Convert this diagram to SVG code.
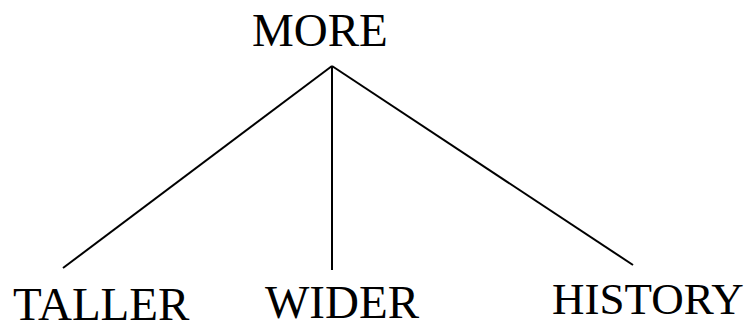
<svg xmlns="http://www.w3.org/2000/svg" width="756" height="328" viewBox="0 0 756 328">
<style>
text{font-family:"Liberation Serif","Times New Roman",serif;font-size:47px;fill:#000}
.c line{stroke:#000;stroke-width:2}
</style>
<rect width="756" height="328" fill="#fff"/>
<g class="c" id="connectors">
<line x1="332" y1="66" x2="63" y2="268"/>
<line x1="332" y1="66" x2="332" y2="270"/>
<line x1="332" y1="66" x2="633" y2="265"/>
</g>
<g id="more"><text x="252" y="46">MORE</text></g>
<g id="taller"><text x="13" y="320">TALLER</text></g>
<g id="wider"><text x="265" y="318">WIDER</text></g>
<g id="history"><text x="552" y="314" style="font-size:45px">HISTORY</text></g>
</svg>
